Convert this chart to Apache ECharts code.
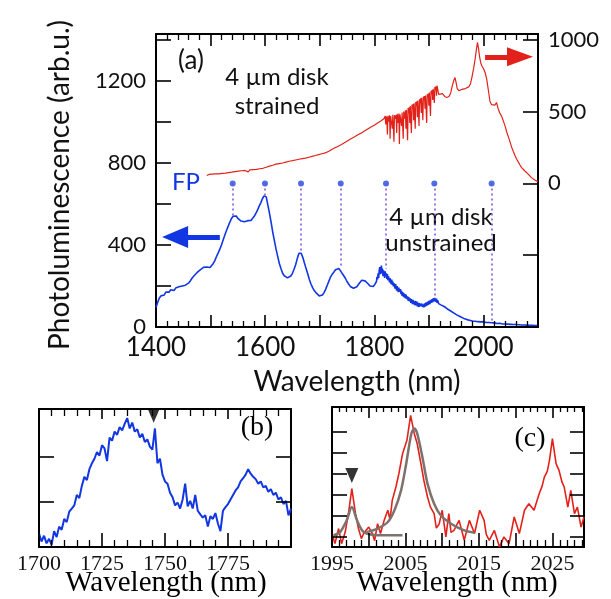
<!DOCTYPE html>
<html>
<head>
<meta charset="utf-8">
<script src="https://cdn.jsdelivr.net/npm/echarts@6/dist/echarts.min.js"></script>
<style>
html,body{margin:0;padding:0;background:#fff;}
#chart{width:611px;height:599px;}
</style>
</head>
<body>
<div id="chart"></div>
<script>
// ---------- tick labels / tick positions ----------
const mainXTickLabels = [1400, 1600, 1800, 2000];
const leftYTickLabels = [0, 400, 800, 1200];
const rightYTickLabels = [0, 500, 1000];
const bXTickLabels = [1700, 1725, 1750, 1775];
const cXTickLabels = [1995, 2005, 2015, 2025];
const leftYTicks = [200, 400, 600, 800, 1000, 1200, 1400];
const rightYTicks = [-500, 0, 500, 1000];
const bYTicks = [1, 2];
const cYTicks = [0.5, 1.5, 2.5, 3.5, 4.5, 5.5];

// ---------- panel (a): unstrained disk (left axis) ----------
const blueSpectrum = [
[1400,95],[1403,120],[1406,140],[1409,152],[1412,160],[1415,156],[1418,170],[1421,176],[1424,170],[1427,182],[1430,186],[1433,178],[1436,190],[1439,186],[1442,196],[1445,190],[1448,200],[1451,195],[1454,204],[1457,206],[1460,215],[1463,226],[1466,238],[1469,248],[1472,256],[1475,265],[1478,272],[1481,279],[1484,286],[1487,291],[1490,286],[1493,293],[1496,296],[1499,290],[1502,300],[1505,310],[1508,325],[1511,345],[1514,362],[1517,380],[1520,400],[1523,425],[1526,448],[1529,470],[1532,490],[1535,510],[1538,528],[1541,540],[1544,548],[1547,542],[1550,530],[1553,522],[1556,517],[1559,521],[1562,514],[1565,511],[1568,519],[1571,513],[1574,520],[1577,528],[1580,540],[1583,555],[1586,570],[1589,590],[1592,606],[1595,626],[1598,640],[1600,648],[1602,635],[1605,595],[1608,555],[1611,510],[1614,462],[1617,420],[1620,380],[1623,345],[1626,310],[1629,285],[1632,262],[1635,250],[1638,244],[1641,240],[1644,245],[1647,249],[1650,262],[1653,282],[1656,305],[1659,335],[1662,360],[1664,368],[1666,360],[1669,340],[1672,312],[1675,285],[1678,260],[1681,232],[1684,210],[1687,192],[1690,178],[1693,168],[1696,161],[1699,152],[1702,150],[1705,156],[1708,168],[1711,185],[1714,205],[1717,225],[1720,245],[1723,258],[1726,268],[1729,279],[1732,283],[1735,285],[1738,275],[1741,262],[1744,257],[1747,238],[1750,222],[1753,210],[1756,198],[1759,195],[1762,189],[1765,192],[1768,196],[1771,205],[1774,218],[1777,228],[1780,232],[1783,225],[1786,218],[1789,210],[1792,200],[1795,196],[1798,198],[1801,208],
[1804,222],[1805,245],[1806,232],[1807,262],[1808,240],[1809,275],[1810,292],[1811,258],[1812,280],[1813,300],[1814,262],[1815,285],[1816,248],[1817,276],[1818,265],[1819,240],[1820,272],[1821,250],[1822,262],[1823,235],[1824,258],[1825,228],[1826,248],[1827,240],[1828,218],[1829,238],[1830,222],[1831,210],[1832,232],[1833,205],[1834,222],[1835,198],[1836,214],[1837,205],[1838,188],[1839,210],[1840,190],[1841,178],[1842,200],[1843,184],[1844,170],[1845,192],[1846,172],[1847,165],[1848,185],[1849,160],[1850,176],[1851,152],[1852,170],[1853,148],[1854,166],[1855,144],[1856,160],[1857,140],[1858,158],[1860,136],[1861,150],[1862,128],[1863,146],[1864,126],[1866,140],[1867,118],[1868,136],[1870,112],[1871,132],[1872,120],[1874,108],[1875,128],[1876,106],[1878,124],[1879,100],[1880,118],[1882,98],[1883,116],[1884,102],[1886,94],[1887,114],[1888,98],[1890,110],[1891,96],[1892,115],[1894,100],[1895,120],[1896,104],[1898,124],[1899,108],[1900,128],[1902,112],[1903,132],[1904,118],[1906,136],[1907,120],[1908,140],[1910,126],[1911,142],[1912,124],[1914,138],[1915,118],[1916,130],[1918,114],[1920,120],[1922,108],
[1925,104],[1928,100],[1931,91],[1934,88],[1937,81],[1940,78],[1943,71],[1946,68],[1949,61],[1952,58],[1955,54],[1958,50],[1961,45],[1964,42],[1967,38],[1970,36],[1973,32],[1976,32],[1980,29],[1985,28],[1990,26],[1995,25],[2000,26],[2005,22],[2010,22],[2015,21],[2020,20],[2025,17],[2030,18],[2035,15],[2040,15],[2045,14],[2050,13],[2055,12],[2060,12],[2065,11],[2070,10],[2075,10],[2080,9],[2085,8],[2090,8],[2095,7],[2100,7]
];

// ---------- panel (a): strained disk (right axis) ----------
const redSpectrum = [
[1493,55],[1497,62],[1500,57],[1503,64],[1506,60],[1509,66],[1512,74],[1515,66],[1518,65],[1521,70],[1524,67],[1527,72],[1530,70],[1533,75],[1536,73],[1539,78],[1542,80],[1545,82],[1548,80],[1551,85],[1554,84],[1557,88],[1560,86],[1563,90],[1566,89],[1569,80],[1572,94],[1575,93],[1578,96],[1581,98],[1584,97],[1587,100],[1590,102],[1593,104],[1596,105],[1599,108],[1602,112],[1605,116],[1608,120],[1611,124],[1614,126],[1617,130],[1620,134],[1623,136],[1626,138],[1629,140],[1632,142],[1635,146],[1638,148],[1641,150],[1644,154],[1647,156],[1650,158],[1653,160],[1656,163],[1659,165],[1662,168],[1665,170],[1668,172],[1671,174],[1674,176],[1677,178],[1680,182],[1683,185],[1686,188],[1689,190],[1692,194],[1695,198],[1698,200],[1701,204],[1704,206],[1707,208],[1710,212],[1713,216],[1716,222],[1719,228],[1722,236],[1725,242],[1728,248],[1731,252],[1734,258],[1737,262],[1740,270],[1743,276],[1746,284],[1749,290],[1752,298],[1755,304],[1758,312],[1761,318],[1764,324],[1767,330],[1770,338],[1773,344],[1776,350],[1779,358],[1782,364],[1785,372],[1788,378],[1791,385],[1794,392],[1797,398],[1800,405],[1803,412],[1806,420],[1809,428],[1812,434],[1815,440],
[1818,452],[1819,460],[1820,470],[1821,410],[1822,466],[1823,452],[1824,340],[1825,470],[1826,462],[1827,430],[1828,474],[1829,310],[1830,468],[1831,476],[1832,458],[1833,380],[1834,478],[1835,470],[1836,290],[1837,475],[1838,482],[1839,450],[1840,476],[1841,350],[1842,484],[1843,478],[1844,420],[1845,486],[1846,275],[1847,480],[1848,490],[1849,470],[1850,400],[1851,494],[1852,488],[1853,310],[1854,500],[1855,505],[1856,450],[1857,508],[1858,380],[1859,512],[1860,518],[1861,300],[1862,524],[1863,490],[1864,530],[1865,420],[1866,538],[1867,542],[1868,350],[1869,548],[1870,520],[1871,552],[1872,440],[1873,558],[1874,562],[1875,380],[1876,566],[1877,540],[1878,572],[1879,460],[1880,576],[1881,582],[1882,400],[1883,586],[1884,560],[1885,592],[1886,490],[1887,596],[1888,600],[1889,440],[1890,604],[1891,580],[1892,608],[1893,520],[1894,612],[1895,616],[1896,420],[1897,620],[1898,600],[1899,626],[1900,540],[1901,632],[1902,638],[1903,470],[1904,644],[1905,620],[1906,650],[1907,580],[1908,658],[1909,664],[1910,560],[1911,670],[1912,650],[1913,676],[1914,610],[1915,680],[1916,660],
[1918,620],[1921,610],[1925,625],[1929,605],[1933,598],[1937,605],[1940,630],[1943,680],[1946,720],[1948,737],[1950,700],[1952,660],[1955,645],[1958,650],[1961,655],[1964,652],[1967,660],[1970,665],[1973,672],[1976,690],[1979,740],[1982,800],[1985,870],[1987,930],[1989,981],[1991,940],[1993,880],[1995,840],[1997,819],[2000,800],[2003,772],[2006,726],[2009,650],[2012,570],[2015,548],[2018,540],[2021,545],[2024,563],[2027,520],[2030,490],[2033,470],[2036,440],[2040,395],[2043,354],[2046,320],[2049,285],[2052,249],[2055,220],[2058,192],[2061,168],[2064,148],[2067,128],[2070,110],[2073,98],[2076,86],[2079,75],[2082,64],[2085,52],[2088,40],[2091,32],[2094,24],[2097,17],[2100,12]
];

// Fabry-Perot mode positions (nm) and where the guide lines end (left-axis units)
const fpWavelength = [1540.5, 1599.7, 1665.7, 1738.5, 1821.5, 1910, 2015];
const fpLevel = 700;
const fpLineEnd = [538, 636, 367, 288, 283, 137, 29];

// ---------- panel (b) ----------
const panelBSpectrum = [
[1700,0.30],[1701,0.12],[1702,0.25],[1703,0.08],[1704,0.18],[1705,0.05],[1706,0.35],[1707,0.22],[1708,0.45],[1709,0.38],[1710,0.62],[1711,0.55],[1712,0.78],[1713,0.85],[1714,0.92],[1715,1.15],[1716,1.08],[1717,1.35],[1718,1.55],[1719,1.48],[1720,1.72],[1721,1.85],[1722,1.95],[1723,2.10],[1724,2.02],[1725,2.25],[1726,2.18],[1727,1.90],[1728,2.42],[1729,2.35],[1730,2.55],[1731,2.48],[1732,2.65],[1733,2.58],[1734,2.72],[1735,2.85],[1736,2.62],[1737,2.75],[1738,2.55],[1739,2.60],[1740,2.42],[1741,2.50],[1742,2.32],[1743,2.38],[1744,2.22],[1745,2.15],[1746,2.62],[1747,1.85],[1748,1.95],[1749,1.60],[1750,1.45],[1751,1.40],[1752,1.20],[1753,1.10],[1754,0.92],[1755,0.98],[1756,0.85],[1757,1.05],[1758,1.40],[1759,0.90],[1760,1.02],[1761,0.85],[1762,1.15],[1763,0.80],[1764,0.72],[1765,0.65],[1766,0.70],[1767,0.45],[1768,0.68],[1769,0.62],[1770,0.75],[1771,0.52],[1772,0.35],[1773,0.80],[1774,0.88],[1775,0.95],[1776,1.05],[1777,1.15],[1778,1.25],[1779,1.32],[1780,1.45],[1781,1.52],[1782,1.60],[1783,1.72],[1784,1.62],[1785,1.55],[1786,1.50],[1787,1.40],[1788,1.45],[1789,1.32],[1790,1.35],[1791,1.22],[1792,1.28],[1793,1.15],[1794,1.20],[1795,1.05],[1796,1.10],[1797,0.95],[1798,1.02],[1799,0.70],[1800,0.85]
];
const panelBMarker = [[1745.5, 2.9]];

// ---------- panel (c) ----------
const panelCSpectrum = [
[1995.0,0.64],[1995.4,0.16],[1995.9,0.88],[1996.3,0.16],[1996.8,0.71],[1997.3,1.75],[1997.7,2.78],[1998.2,1.59],[1998.6,0.88],[1999.0,0.40],[1999.3,0.64],[2000.0,0.95],[2000.5,0.64],[2000.8,0.30],[2001.2,1.11],[2001.6,0.64],[2002.1,1.27],[2002.6,1.75],[2002.9,1.30],[2003.2,2.22],[2003.7,2.86],[2004.1,3.49],[2004.6,4.44],[2005.2,5.08],[2005.7,6.27],[2006.2,5.40],[2006.6,4.92],[2007.1,3.97],[2007.5,3.18],[2008.0,2.38],[2008.4,1.90],[2008.9,1.59],[2009.2,0.90],[2009.6,1.11],[2010.0,1.75],[2010.5,0.48],[2010.9,1.59],[2011.2,0.70],[2011.6,0.79],[2012.3,1.27],[2013.0,0.32],[2013.7,1.27],[2014.4,0.64],[2015.1,1.75],[2015.7,1.27],[2016.0,0.60],[2016.4,0.32],[2017.1,0.79],[2017.8,0.00],[2018.4,0.48],[2019.1,0.16],[2019.8,1.43],[2020.5,0.64],[2021.2,1.75],[2021.8,2.06],[2022.5,1.75],[2022.9,2.20],[2023.2,2.54],[2023.6,2.90],[2023.9,3.33],[2024.3,3.60],[2024.6,4.13],[2025.0,5.16],[2025.5,3.97],[2025.9,3.65],[2026.3,3.10],[2026.6,2.86],[2027.1,1.90],[2027.5,2.70],[2028.0,1.59],[2028.4,1.90],[2028.9,0.95],[2029.3,1.43]
];
const fitPeak1 = [
[1995.2,0.56],[1996.1,0.71],[1997.0,1.27],[1997.7,1.90],[1998.4,1.27],[1999.1,0.79],[1999.7,0.64],[2001.2,0.56],[2004.6,0.56]
];
const fitPeak2 = [
[1999.7,0.71],[2001.2,0.88],[2002.6,1.19],[2003.5,1.75],[2004.4,2.70],[2005.1,3.97],[2005.8,5.40],[2006.2,5.64],[2006.6,5.40],[2007.3,4.29],[2008.0,3.02],[2008.9,2.06],[2009.8,1.51],[2011.2,1.11],[2013.0,0.79],[2014.4,0.68]
];
const panelCMarker = [[1997.7, 3.41]];

// ---------- styling / layout ----------
const BLUE = '#1236e2';
const RED = '#e2221a';
const PURPLE = '#7a4fd8';
const GRAY = '#7d726d';
const SANS = 'Lato';
const SERIF = 'Liberation Serif';

const GA = { left: 156, top: 34, width: 382, height: 293 };
const GB = { left: 39, top: 409, width: 252, height: 138 };
const GC = { left: 332, top: 407, width: 252, height: 140 };
const AX = [1400, 2100], AYL = [0, 1430], AYR = [-1000, 1040];
const BX = [1700, 1800], BY = [0, 3.05];
const CX = [1995, 2029.3], CY = [0, 6.67];

function steps(from, to, step) {
  const out = [];
  for (let i = 0; from + i * step <= to + 1e-9; i++) out.push(Math.round((from + i * step) * 1000) / 1000);
  return out;
}
function without(a, b) { return a.filter(function (v) { return !b.some(function (w) { return Math.abs(v - w) < 1e-6; }); }); }
function perPx(range, px) { return (range[1] - range[0]) / px; }
function labelFilter(list) {
  return function (v) {
    const r = Math.round(v);
    return (Math.abs(v - r) < 1e-6 && list.indexOf(r) >= 0) ? String(r) : '';
  };
}
function frameLine() { return { show: true, onZero: false, lineStyle: { color: '#000', width: 2 } }; }

function xAx(grid, pos, range, interval, labels, font, size, margin) {
  return {
    type: 'value', gridIndex: grid, position: pos, min: range[0], max: range[1], interval: interval,
    axisLine: frameLine(), axisTick: { show: false }, minorTick: { show: false },
    splitLine: { show: false },
    axisLabel: labels ? { show: true, formatter: labelFilter(labels), color: '#111', fontFamily: font, fontSize: size, margin: margin } : { show: false }
  };
}
function yAx(grid, pos, range, interval, labels, size) {
  return {
    type: 'value', gridIndex: grid, position: pos, min: range[0], max: range[1], interval: interval,
    axisLine: frameLine(), axisTick: { show: false },
    splitLine: { show: false },
    axisLabel: labels ? { show: true, formatter: labelFilter(labels), color: '#111', fontFamily: SANS, fontSize: size, margin: 10 } : { show: false }
  };
}

// inward tick marks as mark lines placed on the axes' own scales
function xTickSegs(values, base, delta, width) {
  return values.map(function (v) {
    return [{ coord: [v, base], lineStyle: { width: width } }, { coord: [v, base + delta] }];
  });
}
function yTickSegs(values, base, delta, width) {
  return values.map(function (v) {
    return [{ coord: [base, v], lineStyle: { width: width } }, { coord: [base + delta, v] }];
  });
}
function tickHost(xIdx, yIdx, anchor, segs) {
  return {
    type: 'scatter', xAxisIndex: xIdx, yAxisIndex: yIdx, data: [anchor], symbolSize: 0, silent: true, z: 6,
    itemStyle: { opacity: 0 },
    markLine: {
      silent: true, animation: false, symbol: ['none', 'none'], label: { show: false },
      lineStyle: { color: '#000', width: 1.5, type: 'solid' },
      emphasis: { disabled: true },
      data: segs
    }
  };
}

const aMajor = steps(1400, 2100, 100), aMinor = without(steps(1400, 2100, 20), aMajor);
const bMajor = steps(1700, 1800, 25), bMinor = without(steps(1700, 1800, 5), bMajor);
const cMajor = steps(1995, 2029, 5), cMinor = without(steps(1995, 2029, 1), cMajor);

const aX = perPx(AX, GA.width), aYL = perPx(AYL, GA.height);
const bXp = perPx(BX, GB.width), bYp = perPx(BY, GB.height);
const cXp = perPx(CX, GC.width), cYp = perPx(CY, GC.height);

const chart = echarts.init(document.getElementById('chart'), null, { renderer: 'canvas' });

const option = {
  animation: false,
  backgroundColor: '#fff',
  grid: [GA, GB, GC],
  xAxis: [
    xAx(0, 'bottom', AX, 100, mainXTickLabels, SANS, 26, 8),
    xAx(0, 'top', AX, 100, null),
    xAx(1, 'bottom', BX, 25, bXTickLabels, SERIF, 22, 6),
    xAx(1, 'top', BX, 25, null),
    xAx(2, 'bottom', CX, 5, cXTickLabels, SERIF, 22, 6),
    xAx(2, 'top', CX, 5, null)
  ],
  yAxis: [
    yAx(0, 'left', AYL, 200, leftYTickLabels, 22),
    yAx(0, 'right', AYR, 500, rightYTickLabels, 22),
    yAx(1, 'left', BY, 1, null),
    yAx(1, 'right', BY, 1, null),
    yAx(2, 'left', CY, 1, null),
    yAx(2, 'right', CY, 1, null)
  ],
  series: [
    {
      type: 'line', xAxisIndex: 0, yAxisIndex: 1, data: redSpectrum, showSymbol: false,
      lineStyle: { color: RED, width: 1.2 }, z: 3,
      markLine: {
        silent: true, symbol: ['none', 'triangle'], symbolSize: [19, 26],
        label: { show: false },
        lineStyle: { color: RED, width: 5, type: 'solid' },
        data: [[{ coord: [2003, 881] }, { coord: [2067, 881] }]]
      }
    },
    {
      type: 'line', xAxisIndex: 0, yAxisIndex: 0, data: blueSpectrum, showSymbol: false,
      lineStyle: { color: BLUE, width: 1.6 }, z: 3,
      markLine: {
        silent: true, symbol: ['none', 'triangle'], symbolSize: [22, 26],
        label: { show: false },
        lineStyle: { color: BLUE, width: 5, type: 'solid' },
        data: [[{ coord: [1517, 439] }, { coord: [1435, 439] }]]
      }
    },
    {
      type: 'scatter', xAxisIndex: 0, yAxisIndex: 0,
      data: fpWavelength.map(function (x) { return [x, fpLevel]; }),
      symbol: 'circle', symbolSize: 6, itemStyle: { color: '#1d4be0' }, z: 4,
      markLine: {
        silent: true, symbol: ['none', 'none'], label: { show: false },
        lineStyle: { color: PURPLE, width: 1.5, type: [2, 3] },
        data: fpWavelength.map(function (x, i) { return [{ coord: [x, fpLevel] }, { coord: [x, fpLineEnd[i]] }]; })
      }
    },
    {
      type: 'line', xAxisIndex: 2, yAxisIndex: 2, data: panelBSpectrum, showSymbol: false,
      lineStyle: { color: BLUE, width: 2 }
    },
    {
      type: 'scatter', xAxisIndex: 2, yAxisIndex: 2, data: panelBMarker,
      symbol: 'triangle', symbolRotate: 180, symbolSize: [12, 14], itemStyle: { color: '#000' }, z: 5
    },
    {
      type: 'line', xAxisIndex: 4, yAxisIndex: 4, data: panelCSpectrum, showSymbol: false,
      lineStyle: { color: RED, width: 1.6 }
    },
    {
      type: 'line', xAxisIndex: 4, yAxisIndex: 4, data: fitPeak1, showSymbol: false, smooth: 0.3,
      lineStyle: { color: GRAY, width: 2.5 }, z: 4
    },
    {
      type: 'line', xAxisIndex: 4, yAxisIndex: 4, data: fitPeak2, showSymbol: false, smooth: 0.3,
      lineStyle: { color: GRAY, width: 2.5 }, z: 4
    },
    {
      type: 'scatter', xAxisIndex: 4, yAxisIndex: 4, data: panelCMarker,
      symbol: 'triangle', symbolRotate: 180, symbolSize: [13, 15], itemStyle: { color: '#000' }, z: 5
    },
    // panel (a) ticks (left axis units)
    tickHost(0, 0, [AX[0], AYL[0]], [].concat(
      xTickSegs(aMajor, AYL[0], 12 * aYL, 1.6),
      xTickSegs(aMinor, AYL[0], 6 * aYL, 1.3),
      xTickSegs(aMajor, AYL[1], -12 * aYL, 1.6),
      xTickSegs(aMinor, AYL[1], -6 * aYL, 1.3),
      yTickSegs(leftYTicks, AX[0], 15 * aX, 1.6)
    )),
    // panel (a) right-axis ticks
    tickHost(0, 1, [AX[1], 0], yTickSegs(rightYTicks, AX[1], -15 * aX, 1.6)),
    // panel (b) ticks
    tickHost(2, 2, [BX[0], BY[0]], [].concat(
      xTickSegs(bMajor, BY[0], 14 * bYp, 1.6),
      xTickSegs(bMinor, BY[0], 7 * bYp, 1.3),
      xTickSegs(bMajor, BY[1], -10 * bYp, 1.6),
      xTickSegs(bMinor, BY[1], -7 * bYp, 1.3),
      yTickSegs(bYTicks, BX[0], 15 * bXp, 1.6),
      yTickSegs(bYTicks, BX[1], -15 * bXp, 1.6)
    )),
    // panel (c) ticks
    tickHost(4, 4, [CX[0], CY[0]], [].concat(
      xTickSegs(cMajor, CY[0], 14 * cYp, 1.6),
      xTickSegs(cMinor, CY[0], 7 * cYp, 1.3),
      xTickSegs(cMajor, CY[1], -11 * cYp, 1.6),
      xTickSegs(cMinor, CY[1], -5 * cYp, 1.3),
      yTickSegs(cYTicks, CX[0], 15 * cXp, 1.6),
      yTickSegs(cYTicks, CX[1], -14 * cXp, 1.6)
    ))
  ],
  graphic: [
    { type: 'text', x: 60, y: 185, rotation: Math.PI / 2, style: { text: 'Photoluminescence (arb.u.)', font: '28px ' + SANS, fill: '#111', align: 'center', verticalAlign: 'middle' } },
    { type: 'text', x: 357, y: 382, style: { text: 'Wavelength (nm)', font: '28px ' + SANS, fill: '#111', align: 'center', verticalAlign: 'middle' } },
    { type: 'text', x: 191, y: 61, style: { text: '(a)', font: '26px ' + SANS, fill: '#111', align: 'center', verticalAlign: 'middle' } },
    { type: 'text', x: 277, y: 77, style: { text: '4 µm disk', font: '24px ' + SANS, fill: '#111', align: 'center', verticalAlign: 'middle' } },
    { type: 'text', x: 277, y: 106, style: { text: 'strained', font: '24px ' + SANS, fill: '#111', align: 'center', verticalAlign: 'middle' } },
    { type: 'text', x: 186, y: 182, style: { text: 'FP', font: '24px ' + SANS, fill: BLUE, align: 'center', verticalAlign: 'middle' } },
    { type: 'text', x: 441, y: 217, style: { text: '4 µm disk', font: '24px ' + SANS, fill: '#111', align: 'center', verticalAlign: 'middle' } },
    { type: 'text', x: 441, y: 243, style: { text: 'unstrained', font: '24px ' + SANS, fill: '#111', align: 'center', verticalAlign: 'middle' } },
    { type: 'text', x: 166, y: 583, style: { text: 'Wavelength (nm)', font: '29px ' + SERIF, fill: '#000', align: 'center', verticalAlign: 'middle' } },
    { type: 'text', x: 457, y: 583, style: { text: 'Wavelength (nm)', font: '29px ' + SERIF, fill: '#000', align: 'center', verticalAlign: 'middle' } },
    { type: 'text', x: 257, y: 428, style: { text: '(b)', font: '28px ' + SERIF, fill: '#000', align: 'center', verticalAlign: 'middle' } },
    { type: 'text', x: 530, y: 439, style: { text: '(c)', font: '28px ' + SERIF, fill: '#000', align: 'center', verticalAlign: 'middle' } }
  ]
};
chart.setOption(option);
</script>
</body>
</html>
